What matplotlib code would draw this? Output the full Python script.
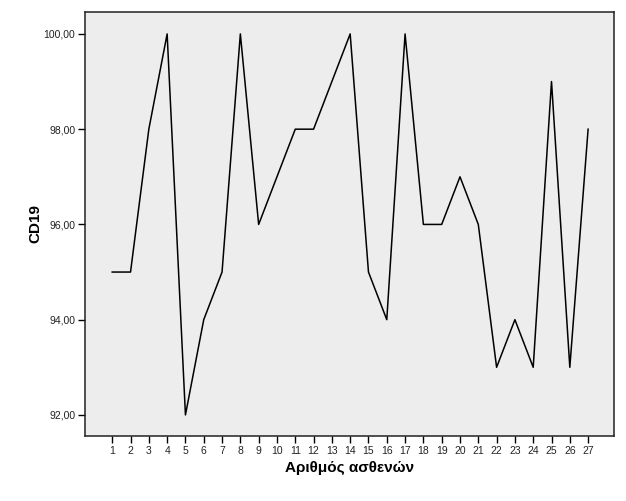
import matplotlib.pyplot as plt

plt.rcParams['font.family'] = ['Liberation Sans', 'DejaVu Sans']

# δεδομένα
patients = list(range(1, 28))
cd19 = [95, 95, 98, 100, 92, 94, 95, 100, 96, 97, 98, 98, 99, 100,
        95, 94, 100, 96, 96, 97, 96, 93, 94, 93, 99, 93, 98]
yticks = [92, 94, 96, 98, 100]

fig = plt.figure(figsize=(6.26, 5.01), dpi=100)
ax = fig.add_axes([0.136, 0.130, 0.845, 0.846])
ax.set_facecolor('#ededed')

ax.plot(patients, cd19, color='black', linewidth=1.1)

ax.set_xlim(-0.48, 28.42)
ax.set_ylim(91.56, 100.46)
ax.set_xticks(patients)
ax.set_xticklabels([str(p) for p in patients], fontsize=7.5, color='#222222')
ax.set_yticks(yticks)
ax.set_yticklabels([f'{v:.2f}'.replace('.', ',') for v in yticks], fontsize=7.5, color='#222222')
ax.tick_params(axis='both', direction='out', length=5, width=1, pad=2)

for s in ax.spines.values():
    s.set_linewidth(1.1)
    s.set_color('#222222')

ax.set_xlabel('Αριθμός ασθενών', fontsize=11, fontweight='bold', labelpad=4)
ax.set_ylabel('CD19', fontsize=11, fontweight='bold', labelpad=1)

plt.savefig('out.png', dpi=100)
